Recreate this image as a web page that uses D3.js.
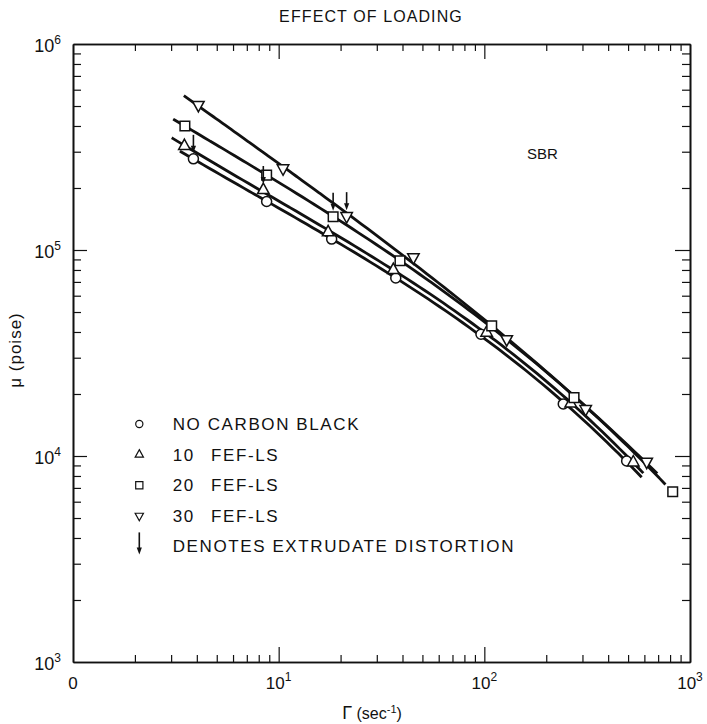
<!DOCTYPE html>
<html>
<head>
<meta charset="utf-8">
<script src="https://cdn.jsdelivr.net/npm/d3@7/dist/d3.min.js"></script>
<style>
  body { margin: 0; background: #fff; }
  svg text { font-family: "Liberation Sans", Arial, sans-serif; fill: #111; }
</style>
</head>
<body>
<svg id="chart" width="707" height="724"></svg>
<script>
// Shear rate (sec^-1) and apparent viscosity (poise) for SBR at each loading
const rateNone = [3.85, 8.74, 18.1, 37.1, 96.3, 242, 492];
const viscNone = [2.77e5, 1.72e5, 1.13e5, 7.31e4, 3.90e4, 1.79e4, 9.46e3];
const rate10 = [3.48, 8.42, 17.4, 36.1, 102.6, 263, 530];
const visc10 = [3.20e5, 1.955e5, 1.22e5, 8.0e4, 3.97e4, 1.80e4, 9.31e3];
const rate20 = [3.50, 8.74, 18.4, 38.9, 108.6, 273, 824];
const visc20 = [4.0e5, 2.31e5, 1.45e5, 8.87e4, 4.28e4, 1.92e4, 6.71e3];
const rate30 = [4.07, 10.5, 21.4, 45.2, 128.5, 311, 616];
const visc30 = [5.06e5, 2.49e5, 1.46e5, 9.22e4, 3.69e4, 1.69e4, 9.38e3];

// Shear-rate span covered by each faired curve
const curveFrom = [3.31, 3.02, 3.07, 3.46];
const curveTo = [582, 593, 760, 693];

// Points flagged for extrudate distortion: [series index, point index]
const distortion = [[0, 0], [1, 1], [2, 2], [3, 2]];

const seriesSymbols = ["circle", "triUp", "square", "triDown"];
const legendNumbers = ["", "10", "20", "30", ""];
const legendNames = ["NO CARBON BLACK", "FEF-LS", "FEF-LS", "FEF-LS", "DENOTES EXTRUDATE DISTORTION"];

const xTickValues = [1, 10, 100, 1000];
const xTickBase = ["0", "10", "10", "10"];
const xTickExp = ["", "1", "2", "3"];
const yTickValues = [1e3, 1e4, 1e5, 1e6];
const yTickBase = ["10", "10", "10", "10"];
const yTickExp = ["3", "4", "5", "6"];

const titleText = "EFFECT OF LOADING";
const polymerText = "SBR";

const rates = [rateNone, rate10, rate20, rate30];
const viscs = [viscNone, visc10, visc20, visc30];

const svg = d3.select("#chart");
const x = d3.scaleLog().domain([1, 1000]).range([73, 690]);
const y = d3.scaleLog().domain([1e3, 1e6]).range([662, 44]);

const isDecade = v => Math.abs(Math.log10(v) - Math.round(Math.log10(v))) < 1e-9;
const xMinor = x.ticks().filter(v => !isDecade(v));
const yMinor = y.ticks().filter(v => !isDecade(v));
const xMajor = [10, 100];
const yMajor = [1e4, 1e5];

// Frame with inward-facing ticks on all four sides
function drawEdge(makeAxis, transform, values, size) {
  const g = svg.append("g")
    .attr("transform", transform)
    .call(makeAxis().tickValues(values).tickSize(size).tickSizeOuter(0).tickFormat(""));
  g.select(".domain").attr("stroke", "#111").attr("stroke-width", 1.6);
  g.selectAll(".tick line").attr("stroke", "#111").attr("stroke-width", 1.2);
}
const b = y.range()[0], t = y.range()[1], l = x.range()[0], r = x.range()[1];
drawEdge(() => d3.axisBottom(x), `translate(0,${b})`, xMinor, -7);
drawEdge(() => d3.axisBottom(x), `translate(0,${b})`, xMajor, -15);
drawEdge(() => d3.axisTop(x), `translate(0,${t})`, xMinor, -7);
drawEdge(() => d3.axisTop(x), `translate(0,${t})`, xMajor, -15);
drawEdge(() => d3.axisLeft(y), `translate(${l},0)`, yMinor, -8);
drawEdge(() => d3.axisLeft(y), `translate(${l},0)`, yMajor, -14);
drawEdge(() => d3.axisRight(y), `translate(${r},0)`, yMinor, -8);
drawEdge(() => d3.axisRight(y), `translate(${r},0)`, yMajor, -15);

// Tick labels
const xl = svg.append("g").selectAll("text").data(xTickValues).join("text")
  .attr("x", d => x(d)).attr("y", b + 27).attr("text-anchor", "middle")
  .attr("font-size", 17);
xl.append("tspan").text((d, i) => xTickBase[i]);
xl.append("tspan").attr("dy", -8).attr("font-size", 12).text((d, i) => xTickExp[i]);

const yl = svg.append("g").selectAll("text").data(yTickValues).join("text")
  .attr("x", l - 12).attr("y", d => y(d) + 8).attr("text-anchor", "end")
  .attr("font-size", 18);
yl.append("tspan").text((d, i) => yTickBase[i]);
yl.append("tspan").attr("dy", -8).attr("font-size", 12).text((d, i) => yTickExp[i]);

// Titles
svg.append("text").attr("x", 371).attr("y", 22).attr("text-anchor", "middle")
  .attr("font-size", 16).attr("letter-spacing", 1.1).text(titleText);
svg.append("text").attr("x", 527).attr("y", 159)
  .attr("font-size", 15).text(polymerText);

const xt = svg.append("text").attr("x", 372).attr("y", 719).attr("text-anchor", "middle")
  .attr("font-size", 16);
xt.append("tspan").attr("font-size", 18).text("Γ");
xt.append("tspan").text(" (sec");
xt.append("tspan").attr("dy", -6).attr("font-size", 11).text("-1");
xt.append("tspan").attr("dy", 6).text(")");

svg.append("text").attr("transform", "translate(21,350) rotate(-90)")
  .attr("text-anchor", "middle").attr("font-size", 17).attr("letter-spacing", 1)
  .text("μ (poise)");

// Least-squares cubic in log-log coordinates, used to fair each curve
function fitCubic(us, vs) {
  const n = 4, A = [], B = [];
  for (let i = 0; i < n; i++) { A.push(new Array(n).fill(0)); B.push(0); }
  us.forEach((u, k) => {
    for (let i = 0; i < n; i++) {
      B[i] += vs[k] * u ** i;
      for (let j = 0; j < n; j++) A[i][j] += u ** (i + j);
    }
  });
  for (let c = 0; c < n; c++) {
    let p = c;
    for (let rr = c + 1; rr < n; rr++) if (Math.abs(A[rr][c]) > Math.abs(A[p][c])) p = rr;
    [A[c], A[p]] = [A[p], A[c]]; [B[c], B[p]] = [B[p], B[c]];
    for (let rr = c + 1; rr < n; rr++) {
      const f = A[rr][c] / A[c][c];
      for (let k = c; k < n; k++) A[rr][k] -= f * A[c][k];
      B[rr] -= f * B[c];
    }
  }
  const coef = new Array(n).fill(0);
  for (let i = n - 1; i >= 0; i--) {
    let s = B[i];
    for (let k = i + 1; k < n; k++) s -= A[i][k] * coef[k];
    coef[i] = s / A[i][i];
  }
  return u => coef.reduce((s, c, i) => s + c * u ** i, 0);
}

const curveData = rates.map((rs, i) => {
  const us = rs.map(v => Math.log10(v) - 1.5);
  const vs = viscs[i].map(v => Math.log10(v));
  const f = fitCubic(us, vs);
  const u0 = Math.log10(curveFrom[i]), u1 = Math.log10(curveTo[i]);
  return d3.range(0, 81).map(k => {
    const u = u0 + (u1 - u0) * k / 80;
    return [10 ** u, 10 ** f(u - 1.5)];
  });
});
const line = d3.line().x(d => x(d[0])).y(d => y(d[1])).curve(d3.curveBasis);
svg.append("g").selectAll("path").data(curveData).join("path")
  .attr("d", line).attr("fill", "none").attr("stroke", "#111")
  .attr("stroke-width", 2.8).attr("stroke-linecap", "butt");

// Marker shapes
function symbolPath(kind, s) {
  if (kind === "circle") return d3.symbol(d3.symbolCircle, Math.PI * s * s)();
  if (kind === "square") return `M${-s},${-s}H${s}V${s}H${-s}Z`;
  const h = s * 1.15;
  if (kind === "triUp") return `M0,${-h * 1.2}L${h},${h * 0.62}L${-h},${h * 0.62}Z`;
  return `M0,${h * 1.2}L${h},${-h * 0.62}L${-h},${-h * 0.62}Z`;
}

const markerSize = { circle: 5, square: 4.8, triUp: 5, triDown: 5 };
rates.forEach((rs, i) => {
  const kind = seriesSymbols[i];
  svg.append("g").selectAll("path").data(rs.map((v, j) => [v, viscs[i][j]])).join("path")
    .attr("transform", d => `translate(${x(d[0])},${y(d[1])})`)
    .attr("d", symbolPath(kind, markerSize[kind]))
    .attr("fill", "#fff").attr("stroke", "#111").attr("stroke-width", 1.5);
});

// Downward arrows
function arrow(g, cx, tipY, len) {
  g.append("line").attr("x1", cx).attr("x2", cx).attr("y1", tipY - len).attr("y2", tipY - 4)
    .attr("stroke", "#111").attr("stroke-width", 1.6);
  g.append("path").attr("d", `M${cx - 2.6},${tipY - 7}L${cx + 2.6},${tipY - 7}L${cx},${tipY}Z`)
    .attr("fill", "#111");
}
const ag = svg.append("g");
distortion.forEach(([si, pi]) => {
  arrow(ag, x(rates[si][pi]), y(viscs[si][pi]) - 6, 18);
});

// Legend
const lg = svg.append("g");
const legendLeft = 139.3, legendTop = 430, legendStep = 30.6;
legendNames.forEach((name, i) => {
  const base = legendTop + i * legendStep;
  if (i < seriesSymbols.length) {
    lg.append("path")
      .attr("transform", `translate(${legendLeft},${base - 6})`)
      .attr("d", symbolPath(seriesSymbols[i], 3.6))
      .attr("fill", "#fff").attr("stroke", "#111").attr("stroke-width", 1.2);
  } else {
    arrow(lg, legendLeft, base + 2, 22);
  }
  if (legendNumbers[i]) {
    lg.append("text").attr("x", 172.7).attr("y", base).attr("font-size", 17)
      .attr("letter-spacing", 1.6).text(legendNumbers[i]);
    lg.append("text").attr("x", 211).attr("y", base).attr("font-size", 17)
      .attr("letter-spacing", 1.6).text(name);
  } else {
    lg.append("text").attr("x", 172.7).attr("y", base).attr("font-size", 17)
      .attr("letter-spacing", 1.6).text(name);
  }
});
</script>
</body>
</html>
